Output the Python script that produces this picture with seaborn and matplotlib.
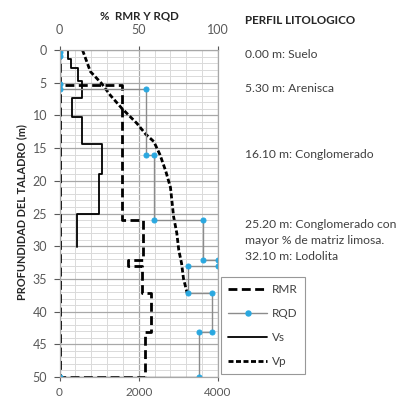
import numpy as np
import pandas as pd
import matplotlib
matplotlib.use("Agg")
import matplotlib.pyplot as plt
from matplotlib.lines import Line2D
from matplotlib.ticker import MultipleLocator
import seaborn as sns

# ---- data ----
rmr_pct = [0, 0, 39.2, 39.2, 52.9, 52.9, 43.4, 43.4, 51.9, 51.9, 57.5, 57.5, 53.9, 53.9, 0, 0]
rmr_depth = [0, 5.3, 5.3, 26.0, 26.0, 32.1, 32.1, 33.0, 33.0, 37.2, 37.2, 43.1, 43.1, 50.0, 50.0, 5.3]

rqd_pct = [0, 0, 0, 0, 54.6, 54.6, 59.5, 59.5, 90.7, 90.7, 100, 100, 81.0, 81.0, 96.0, 96.0, 88.2, 88.2, 0]
rqd_depth = [0.3, 0.9, 5.2, 6.0, 6.0, 16.1, 16.1, 26.0, 26.0, 32.1, 32.1, 33.0, 33.0, 37.2, 37.2, 43.1, 43.1, 50.0, 50.0]

vs_vel = [220, 220, 300, 300, 460, 460, 570, 570, 320, 320, 560, 560, 1065, 1065, 1005, 1005, 435, 435]
vs_depth = [0, 1.3, 1.3, 2.7, 2.7, 4.8, 4.8, 7.4, 7.4, 10.3, 10.3, 14.3, 14.3, 18.9, 18.9, 25.1, 25.1, 30.1]

vp_vel = [580, 780, 1060, 1280, 1570, 1950, 2180, 2380, 2535, 2680, 2800, 2880, 2960, 3010, 3080, 3130, 3225]
vp_depth = [0, 3.3, 5.1, 6.9, 8.9, 11.2, 12.9, 14.0, 16.0, 18.5, 21.0, 25.5, 28.0, 30.6, 32.6, 35.0, 37.2]

pct_ticks = [0, 50, 100]
vel_ticks = [0, 2000, 4000]
depth_ticks = [0, 5, 10, 15, 20, 25, 30, 35, 40, 45, 50]

litho_title = "PERFIL LITOLOGICO"
litho_lines = ["0.00 m: Suelo", "5.30 m: Arenisca", "16.10 m: Conglomerado",
               "25.20 m: Conglomerado con", "mayor % de matriz limosa.", "32.10 m: Lodolita"]
litho_ypx = [54, 89, 155, 224, 241, 257]

# ---- figure ----
sns.set_theme(style="white")
plt.rcParams["font.family"] = ["Lato", "DejaVu Sans"]

W, H = 408, 398
fig = plt.figure(figsize=(W / 100, H / 100), dpi=100)
ax = fig.add_axes([59.5 / W, 1 - 377 / H, (218 - 59.5) / W, (377 - 50) / H])
ax2 = ax.twiny()

blue = "#2aa8e0"
vp_style = (0, (1.8, 0.9))
rmr_style = (0, (3.2, 1.6))

sns.lineplot(x=vs_vel, y=vs_depth, ax=ax, sort=False, estimator=None,
             color="black", lw=1.3, legend=False)
sns.lineplot(x=vp_vel, y=vp_depth, ax=ax, sort=False, estimator=None,
             color="black", lw=2.0, linestyle=vp_style, legend=False)
sns.lineplot(x=rmr_pct, y=rmr_depth, ax=ax2, sort=False, estimator=None,
             color="black", lw=2.0, linestyle=rmr_style, legend=False)
sns.lineplot(x=rqd_pct, y=rqd_depth, ax=ax2, sort=False, estimator=None,
             color="#8c8c8c", lw=1.0, marker="o", markersize=3.6,
             markerfacecolor=blue, markeredgecolor=blue, legend=False)

ax.set_xlim(0, 4000)
ax2.set_xlim(0, 100)
ax.set_ylim(50, 0)

# grid on the bottom (velocity) axes
ax.xaxis.set_major_locator(MultipleLocator(2000))
ax.xaxis.set_minor_locator(MultipleLocator(400))
ax.yaxis.set_major_locator(MultipleLocator(5))
ax.yaxis.set_minor_locator(MultipleLocator(1))
ax.grid(which="minor", color="#dadada", lw=0.7)
ax.grid(which="major", color="#a8a8a8", lw=0.9)
ax.set_axisbelow(True)
ax2.grid(False)

ax.set_xticks(vel_ticks)
ax.set_yticks(depth_ticks)
ax2.set_xticks(pct_ticks)

tick_col = "#595959"
ax.tick_params(axis="x", which="major", labelsize=8.5, colors=tick_col, length=3, width=0.8,
               bottom=True, pad=4)
ax.tick_params(axis="y", which="major", labelsize=9, colors=tick_col, length=4, width=0.8,
               left=True, pad=5)
ax.tick_params(which="minor", length=0)
ax2.tick_params(axis="x", which="major", labelsize=9, colors=tick_col, length=3, width=0.8,
                top=True, pad=7)
ax2.tick_params(which="minor", length=0)
for t in ax.get_xticklabels() + ax.get_yticklabels() + ax2.get_xticklabels():
    t.set_color(tick_col)

for a in (ax, ax2):
    for s in a.spines.values():
        s.set_color("#a8a8a8")
        s.set_linewidth(0.8)

ax.set_xlabel("")
ax.set_ylabel("PROFUNDIDAD DEL TALADRO (m)", fontsize=7.9, fontweight="bold",
              color="#262626", va="center", ha="center")
ax.yaxis.set_label_coords((22 - 59.5) / 158.5, (377 - 212) / 327)
ax2.set_xlabel("%  RMR Y RQD", fontsize=8.3, fontweight="bold", color="#262626",
               va="center", ha="center")
ax2.xaxis.set_label_coords((139 - 59.5) / 158.5, (377 - 16) / 327)

# lithology text
fig.text(245 / W, 1 - 20 / H, litho_title, fontsize=8.4, fontweight="bold",
         color="#262626", va="center", ha="left")
for txt, ypx in zip(litho_lines, litho_ypx):
    fig.text(245 / W, 1 - ypx / H, txt, fontsize=8.7, color="#404040", va="center", ha="left")

# legend
handles = [
    Line2D([], [], color="black", lw=2.0, linestyle=rmr_style),
    Line2D([], [], color="#8c8c8c", lw=1.0, marker="o", markersize=3.6,
           markerfacecolor=blue, markeredgecolor=blue),
    Line2D([], [], color="black", lw=1.3),
    Line2D([], [], color="black", lw=2.0, linestyle=vp_style),
]
labels = ["RMR", "RQD", "Vs", "Vp"]
leg = fig.legend(handles, labels, loc="upper left",
                 bbox_to_anchor=(221 / W, 1 - 277 / H), frameon=True, fancybox=False,
                 fontsize=8.5, handlelength=3.3, handletextpad=0.4, labelspacing=1.1,
                 borderpad=0.6, borderaxespad=0)
leg.get_frame().set_edgecolor("#7f7f7f")
leg.get_frame().set_linewidth(0.8)
for t in leg.get_texts():
    t.set_color("#404040")

fig.savefig("out.png", dpi=100)
